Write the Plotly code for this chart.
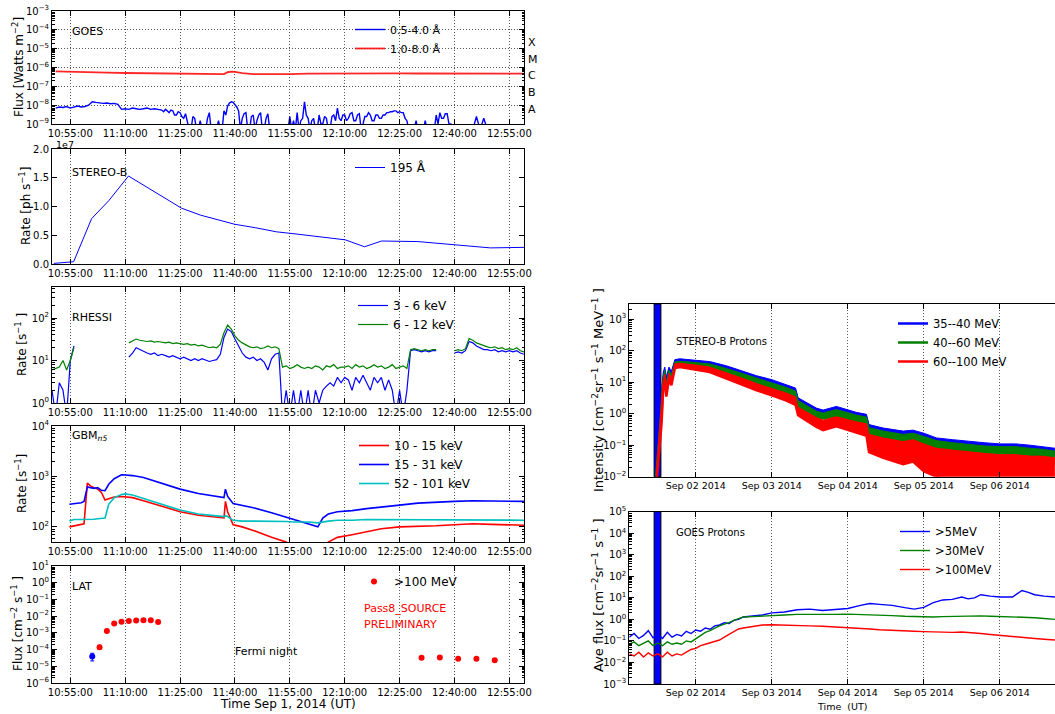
import pandas as pd
import plotly.graph_objects as go

W, H = 1055, 714
DATE = "2014-09-01 "
FONT = "DejaVu Sans"

# ---------------------------------------------------------------- data
# Panel 1: GOES X-ray flux.  0.5-4.0 A channel in units of 1e-9 W m^-2,
# given in three pieces: (start, cadence in s, values)
goes_short_a = [7, 8, 7.5, 8.5, 7, 8, 9, 8, 8.5,
                10, 15, 14, 13, 12.5, 13, 12, 12.5, 11, 6,
                6.5, 6, 7, 6.5, 6, 6.5, 7, 6, 6.5, 6]
goes_short_b = [5.5, 4.5, 6, 5, 4, 5.5, 5, 3, 3, 4.5, 4, 2.5, 2, 3.5, 1.5, 0.5, 0.5, 2.5, 2, 0.5,
                0.5, 1.5, 0.5, 0.5, 0.5, 2, 4, 0.5, 0.5, 0.5, 0.5, 1.5, 0.5, 0.5, 5, 3, 9, 13, 15, 14,
                11, 8, 5, 0.5, 2, 3.5, 4, 0.5, 0.5, 2.5, 3, 0.5, 1.5, 3, 4, 0.5, 0.5, 2, 3.5, 0.5,
                0.5, 0.5, 0.5, 0.5, 0.5, 0.5, 0.5, 0.5, 0.5, 0.5, 2.5, 0.5, 1.5, 0.5, 4, 0.5, 1.5, 2, 15, 3,
                2, 0.5, 1.5, 2, 0.5, 0.5, 3, 1, 1, 2.5, 2, 0.5, 0.5, 2.5, 3, 1.5, 7, 2, 1.5, 3,
                3, 1.5, 2, 3.5, 4, 1.5, 1.5, 3, 3.5, 0.5, 1, 2.5, 2.5, 4, 3, 1.5, 1.5, 3, 3, 2,
                2, 3, 3, 4, 4, 4.5, 4.5, 5, 5, 4, 4.5, 4, 4, 2, 1.5, 0.5, 0.5, 0.5, 0.5, 1.5,
                0.5, 0.5, 0.5, 0.5, 1.5, 0.5, 0.5, 0.5, 0.5, 0.5, 3, 1, 4, 2, 2, 3.5, 3.5, 1, 1, 0.5]
goes_short_c = [0.5, 0.5, 0.5, 0.5, 0.5, 0.5, 2.5, 0.5, 2, 0.5,
                0.5, 0.5, 0.5, 0.5, 0.5, 0.5, 0.5, 0.5, 0.5, 0.5]
goes_short_pieces = [("10:51:00", 60, goes_short_a), ("11:20:00", 30, goes_short_b),
                     ("12:40:00", 60, goes_short_c)]
goes_long_time = ["10:51", "10:55", "11:00", "11:05", "11:10", "11:15", "11:20", "11:25",
                  "11:30", "11:35", "11:37", "11:38", "11:39", "11:40", "11:42", "11:45",
                  "11:50", "11:55", "12:00", "12:05", "12:10", "12:15", "12:20", "12:25",
                  "12:30", "12:35", "12:40", "12:45", "12:50", "12:55", "12:59"]
goes_long_e7 = [6.3, 5.9, 5.5, 5.3, 5.1, 4.9, 4.8, 4.6,
                4.5, 4.4, 4.5, 5.6, 6.0, 5.8, 5.0, 4.4,
                4.3, 4.5, 4.7, 4.8, 4.9, 5.0, 4.9, 4.9,
                4.8, 4.8, 4.7, 4.9, 4.8, 4.8, 4.7]
goes_class = ["X", "M", "C", "B", "A"]

# Panel 2: STEREO-B 195 A, units of 1e7 ph/s
stereo_time = ["10:50:30", "10:55:55", "11:00:50", "11:05:30", "11:10:55", "11:18:00",
               "11:25:25", "11:30:35", "11:40:00", "11:45:40", "11:51:20", "11:57:00",
               "12:10:10", "12:15:25", "12:20:05", "12:30:00", "12:41:20", "12:49:50",
               "12:59:30"]
stereo_rate_e7 = [0.01, 0.04, 0.79, 1.10, 1.53, 1.25,
                  0.97, 0.85, 0.69, 0.63, 0.56, 0.52,
                  0.42, 0.30, 0.40, 0.39, 0.33, 0.28,
                  0.29]

# Panel 3: RHESSI, one value per minute from 10:50 (None = no data)
rhessi_start = "10:50:00"
rhessi_3_6 = [
    2, 0.5, 3, 2, 0.5, 10, 22, None, None, None,
    None, None, None, None, None, None, None, None, None, None,
    None, 12, 15, 20, 18, 16, 15, 14, 15, 13,
    14, 13, 12, 13, 12, 11, 12, 11, 10, 11,
    10, 11, 10, 9.5, 10, 10.5, 14, 35, 55, 48,
    32, 22, 15, 12, 11, 12, 10, 11, 9, 6,
    11, 14, 15, 0.5, 2, 0.5, 2, 0.5, 2, 0.5,
    2, 0.5, 2, 1, 2, 2.5, 3, 2.5, 4, 3,
    4, 3.5, 2, 4, 3, 4.5, 3, 2, 4, 3,
    4, 2, 3.5, 2, 0.5, 2, 0.5, 2, 17, 18,
    17, 16, 17, 16, 17, 17, None, None, None, None,
    15, 16, 15, 17, 28, 26, 22, 20, 18, 18,
    17, 18, 16, 17, 16, 17, 16, 17, 15, 14,
]
rhessi_6_12 = [
    6, 6.5, 7, 10, 6, 10, 20, None, None, None,
    None, None, None, None, None, None, None, None, None, None,
    None, 26, 29, 32, 30, 29, 28, 29, 27, 28,
    27, 26, 27, 25, 26, 25, 24, 25, 23, 24,
    22, 23, 21, 20, 21, 20, 24, 45, 68, 55,
    38, 30, 26, 23, 21, 20, 21, 19, 20, 22,
    20, 21, 19, 7, 7.5, 6.5, 7, 8, 7, 6.5,
    7, 6.5, 7.5, 7, 6, 7.5, 7, 8, 6.5, 7,
    7, 7.5, 6.5, 8, 7, 7.5, 6.5, 7, 8, 7,
    7.5, 6.5, 7, 8, 6.5, 7, 7.5, 6.5, 18, 19,
    18, 17, 18, 17, 18, 18, None, None, None, None,
    17, 18, 17, 19, 33, 30, 26, 24, 22, 21,
    20, 21, 19, 20, 18, 19, 18, 20, 17, 16,
]

# Panel 4: GBM n5 count rates
gbm_time = ["10:54:45", "10:56:00", "10:58:00", "10:58:45", "10:59:40", "11:00:30",
            "11:01:30", "11:02:30", "11:03:30", "11:04:30", "11:05:30", "11:07:00",
            "11:09:00", "11:10:00", "11:12:00", "11:15:00", "11:20:00", "11:25:00",
            "11:30:00", "11:35:00", "11:37:00", "11:37:24", "11:38:00", "11:39:30",
            "11:42:00", "11:45:00", "11:50:00", "11:54:00", "11:56:00", "12:00:00",
            "12:02:40", "12:04:00", "12:05:30", "12:08:00", "12:12:00", "12:16:00",
            "12:20:00", "12:25:00", "12:30:00", "12:35:00", "12:40:00", "12:45:00",
            "12:50:00", "12:55:00", "12:59:00"]
gbm_10_15 = [100, 105, 110, 115, 740, 650,
             600, 560, 480, 340, 360, 390,
             400, 395, 380, 330, 260, 200,
             170, 155, 150, 320, 200, 110,
             100, 85, 62, 50, 40, 40,
             40, 40, 50, 62, 70, 80,
             92, 100, 102, 105, 110, 115,
             112, 110, 108]
gbm_15_31 = [280, 290, 300, 320, 620, 600,
             580, 600, 530, 520, 700, 900,
             1080, 1070, 1040, 950, 720, 560,
             460, 400, 380, 560, 400, 290,
             270, 240, 190, 155, 140, 115,
             100, 150, 180, 200, 210, 230,
             250, 270, 295, 310, 320, 330,
             325, 325, 320]
gbm_52_101 = [130, 140, 140, 140, 142, 143,
              142, 145, 145, 150, 280, 380,
              440, 450, 430, 370, 280, 215,
              180, 165, 160, 165, 160, 135,
              130, 130, 130, 128, 125, 125,
              120, 125, 130, 135, 135, 140,
              140, 140, 140, 140, 140, 140,
              138, 136, 135]

# Panel 5: Fermi-LAT >100 MeV flux
lat_time = ["11:03", "11:05", "11:07", "11:09", "11:11", "11:13", "11:15", "11:17", "11:19",
            "12:31", "12:36", "12:41", "12:46", "12:51"]
lat_flux = [1.4e-4, 1.3e-3, 3.6e-3, 4.6e-3, 5.2e-3, 5.4e-3, 5.6e-3, 5.6e-3, 4.5e-3,
            3.2e-5, 3.4e-5, 2.8e-5, 2.8e-5, 2.3e-5]
lat_err_hi = [0.4e-4, 0.3e-3, 0.6e-3, 0.6e-3, 0.6e-3, 0.6e-3, 0.6e-3, 0.6e-3, 0.6e-3,
              0.5e-5, 0.5e-5, 0.4e-5, 0.4e-5, 0.4e-5]
lat_err_lo = [0.35e-4, 0.25e-3, 0.5e-3, 0.5e-3, 0.5e-3, 0.5e-3, 0.5e-3, 0.5e-3, 0.5e-3,
              0.4e-5, 0.4e-5, 0.35e-5, 0.35e-5, 0.35e-5]
lat_halfbin_min = [1.2, 1, 1, 1, 1, 1, 1, 1, 1.2, 2.5, 2.5, 2.5, 2.5, 2.5]
lat_blue_time = ["11:01"]
lat_blue_flux = [3.9e-5]
lat_blue_err_hi = [2.1e-5]
lat_blue_err_lo = [1.8e-5]
lat_blue_halfbin_min = [1.1]

# Right panels: hours since 2014-09-01 00:00 UT
band_start, band_end = DATE + "10:50", DATE + "12:59"   # window of the left panels
sb_hours = [11.5, 12.4, 13.2, 13.7, 14.2, 14.7, 15.5, 16.3, 17.4, 19.0,
            21.5, 24.0, 28.4, 33.7, 39.0, 43.2, 48.0, 52.6, 55.5, 56.3,
            57.9, 62.1, 64.2, 68.4, 74.7, 77.9, 78.7, 83.2, 89.5, 92.6,
            96.0, 100.0, 105.0, 110.5, 115.0, 120.0, 125.0, 129.5, 133.0, 137.4]
sb_35_40_hi = [0.02, 0.35, 3, 20, 30, 14, 30, 22, 52, 55,
               52, 50, 45, 33, 22, 16, 12, 8.5, 6.5, 3.2,
               2.6, 1.5, 1.3, 1.7, 1.1, 0.95, 0.45, 0.35, 0.28, 0.3,
               0.24, 0.17, 0.15, 0.13, 0.12, 0.11, 0.11, 0.1, 0.09, 0.08]
sb_35_40_lo = [0.01, 0.2, 1.5, 12, 20, 8, 20, 15, 38, 42,
               40, 38, 34, 25, 16, 12, 9, 6.2, 4.8, 2.3,
               1.9, 1.1, 0.95, 1.2, 0.8, 0.7, 0.3, 0.24, 0.19, 0.21,
               0.17, 0.12, 0.1, 0.09, 0.08, 0.07, 0.07, 0.065, 0.06, 0.05]
sb_40_60_hi = [0.015, 0.25, 2, 15, 24, 9, 24, 17, 44, 46,
               44, 42, 38, 27, 18, 13, 9.5, 6.8, 5.2, 2.6,
               2.1, 1.2, 1.05, 1.35, 0.9, 0.78, 0.36, 0.28, 0.22, 0.24,
               0.19, 0.14, 0.12, 0.105, 0.095, 0.09, 0.09, 0.08, 0.075, 0.065]
sb_40_60_lo = [0.01, 0.12, 1, 9, 15, 5, 16, 11, 33, 35,
               33, 31, 27, 19, 12, 8.5, 6.2, 4.5, 3.4, 1.7,
               1.4, 0.8, 0.7, 0.85, 0.58, 0.5, 0.2, 0.15, 0.11, 0.12,
               0.09, 0.06, 0.05, 0.045, 0.04, 0.035, 0.035, 0.03, 0.03, 0.025]
sb_60_100_hi = [0.012, 0.2, 1.5, 11, 18, 7, 19, 13, 38, 40,
                37, 35, 30, 20, 13, 9, 6.5, 4.5, 3.4, 1.6,
                1.3, 0.75, 0.62, 0.8, 0.55, 0.48, 0.22, 0.17, 0.13, 0.15,
                0.11, 0.08, 0.07, 0.06, 0.055, 0.05, 0.05, 0.045, 0.045, 0.04]
sb_60_100_lo = [0.005, 0.05, 0.5, 6, 11, 3.5, 12, 8, 28, 30,
                27, 25, 21, 13, 8, 5.5, 3.8, 2.6, 1.9, 0.9,
                0.7, 0.38, 0.3, 0.4, 0.25, 0.2, 0.06, 0.04, 0.025, 0.03,
                0.015, 0.01, 0.007, 0.006, 0.005, 0.005, 0.005, 0.005, 0.005, 0.005]

gp_hours = [3, 4.5, 6, 7.5, 9, 10.5, 12, 13.5, 15, 16.5,
            18, 19.5, 21, 22.5, 24, 25.5, 27, 28.5, 30, 31.5,
            33, 34.5, 36, 37.5, 39, 42, 45, 48, 52, 56,
            60, 64, 68, 72, 76, 79, 82, 86, 90, 93,
            96, 99, 102, 105, 108, 110, 112, 114, 117, 120,
            124, 127, 129, 131, 134, 137.4]
gp_5 = [0.15, 0.22, 0.13, 0.18, 0.3, 0.14, 0.2, 0.13, 0.25, 0.15,
        0.2, 0.17, 0.28, 0.22, 0.32, 0.28, 0.4, 0.35, 0.5, 0.55,
        0.7, 0.65, 0.9, 1.0, 1.3, 1.4, 1.6, 2.0, 2.2, 2.8,
        3.0, 2.6, 3.0, 3.2, 4.5, 5.5, 5.0, 4.5, 3.5, 3.0,
        3.6, 6.0, 8.0, 8.5, 11, 9, 10, 14, 12, 11,
        11, 22, 18, 14, 12, 11]
gp_30 = [0.07, 0.09, 0.06, 0.08, 0.1, 0.06, 0.08, 0.06, 0.09, 0.07,
         0.08, 0.07, 0.1, 0.09, 0.13, 0.18, 0.25, 0.3, 0.4, 0.5,
         0.6, 0.7, 0.9, 1.1, 1.3, 1.35, 1.45, 1.5, 1.6, 1.7,
         1.7, 1.6, 1.7, 1.75, 1.7, 1.65, 1.6, 1.5, 1.4, 1.35,
         1.3, 1.3, 1.35, 1.4, 1.45, 1.4, 1.45, 1.45, 1.4, 1.35,
         1.3, 1.3, 1.25, 1.2, 1.1, 1.0]
gp_100 = [0.025, 0.02, 0.03, 0.018, 0.028, 0.02, 0.025, 0.018, 0.03, 0.02,
          0.025, 0.022, 0.03, 0.04, 0.045, 0.06, 0.07, 0.08, 0.09, 0.11,
          0.15, 0.2, 0.28, 0.36, 0.4, 0.47, 0.55, 0.56, 0.55, 0.53,
          0.5, 0.48, 0.45, 0.42, 0.38, 0.36, 0.33, 0.32, 0.3, 0.28,
          0.27, 0.26, 0.26, 0.25, 0.26, 0.24, 0.23, 0.22, 0.2, 0.18,
          0.16, 0.15, 0.14, 0.13, 0.12, 0.11]

# ---------------------------------------------------------------- helpers
def T(s):
    return pd.Timestamp(DATE + s)


def hrs(hs):
    return [pd.Timestamp("2014-09-01") + pd.Timedelta(hours=h) for h in hs]


def lx(p):
    return p / W


def ly(p):
    return 1 - p / H


BLUE, RED, GREEN, CYAN = "#0000ff", "#ff0000", "#008000", "#00bfbf"

fig = go.Figure()

# Panel 1
t_short, v_short = [], []
for start, cad, vals in goes_short_pieces:
    t_short += list(pd.date_range(T(start), periods=len(vals), freq="%ds" % cad))
    v_short += [v * 1e-9 for v in vals]
fig.add_trace(go.Scatter(x=t_short, y=v_short, mode="lines",
                         line=dict(color=BLUE, width=1.4), name="0.5-4.0 Å",
                         xaxis="x", yaxis="y", legend="legend"))
fig.add_trace(go.Scatter(x=[T(s) for s in goes_long_time], y=[v * 1e-7 for v in goes_long_e7],
                         mode="lines", line=dict(color="rgba(255,0,0,0.85)", width=1.8),
                         name="1.0-8.0 Å", xaxis="x", yaxis="y", legend="legend"))
# Panel 2
fig.add_trace(go.Scatter(x=[T(s) for s in stereo_time], y=[v * 1e7 for v in stereo_rate_e7],
                         mode="lines", line=dict(color=BLUE, width=1), name="195 Å",
                         xaxis="x2", yaxis="y2", legend="legend2"))
# Panel 3
t_rh = pd.date_range(T(rhessi_start), periods=len(rhessi_3_6), freq="min")
fig.add_trace(go.Scatter(x=t_rh, y=rhessi_3_6, mode="lines", connectgaps=False,
                         line=dict(color=BLUE, width=1.2), name="3 - 6 keV",
                         xaxis="x3", yaxis="y3", legend="legend3"))
fig.add_trace(go.Scatter(x=t_rh, y=rhessi_6_12, mode="lines", connectgaps=False,
                         line=dict(color=GREEN, width=1.2), name="6 - 12 keV",
                         xaxis="x3", yaxis="y3", legend="legend3"))
# Panel 4
t_gbm = [T(s) for s in gbm_time]
for ys, col, nm in [(gbm_10_15, RED, "10 - 15 keV"), (gbm_15_31, BLUE, "15 - 31 keV"),
                    (gbm_52_101, CYAN, "52 - 101 keV")]:
    fig.add_trace(go.Scatter(x=t_gbm, y=ys, mode="lines", line=dict(color=col, width=1.6),
                             name=nm, xaxis="x4", yaxis="y4", legend="legend4"))
# Panel 5
fig.add_trace(go.Scatter(
    x=[T(s) for s in lat_time], y=lat_flux, mode="markers", name=">100 MeV",
    marker=dict(color=RED, size=6),
    error_y=dict(type="data", symmetric=False, array=lat_err_hi, arrayminus=lat_err_lo,
                 color=RED, thickness=1, width=2),
    error_x=dict(type="data", array=[m * 60000 for m in lat_halfbin_min],
                 color=RED, thickness=1, width=2),
    xaxis="x5", yaxis="y5", legend="legend5"))
fig.add_trace(go.Scatter(
    x=[T(s) for s in lat_blue_time], y=lat_blue_flux, mode="markers", showlegend=False,
    marker=dict(color=BLUE, size=6),
    error_y=dict(type="data", symmetric=False, array=lat_blue_err_hi,
                 arrayminus=lat_blue_err_lo, color=BLUE, thickness=1, width=2),
    error_x=dict(type="data", array=[m * 60000 for m in lat_blue_halfbin_min],
                 color=BLUE, thickness=1, width=2),
    xaxis="x5", yaxis="y5"))
# Right panel 1 (bands = spread of the noisy series)
t_sb = hrs(sb_hours)
for lo, hi, col, nm in [(sb_35_40_lo, sb_35_40_hi, BLUE, "35--40 MeV"),
                        (sb_40_60_lo, sb_40_60_hi, GREEN, "40--60 MeV"),
                        (sb_60_100_lo, sb_60_100_hi, RED, "60--100 MeV")]:
    fig.add_trace(go.Scatter(x=t_sb, y=lo, mode="lines", line=dict(color=col, width=2.5),
                             name=nm, xaxis="x6", yaxis="y6", legend="legend6"))
    fig.add_trace(go.Scatter(x=t_sb, y=hi, mode="lines", line=dict(color=col, width=1),
                             fill="tonexty", fillcolor=col, showlegend=False,
                             xaxis="x6", yaxis="y6"))
# Right panel 2
t_gp = hrs(gp_hours)
for ys, col, nm in [(gp_5, BLUE, ">5MeV"), (gp_30, GREEN, ">30MeV"), (gp_100, RED, ">100MeV")]:
    fig.add_trace(go.Scatter(x=t_gp, y=ys, mode="lines", line=dict(color=col, width=1.4),
                             name=nm, xaxis="x7", yaxis="y7", legend="legend7"))

# ---------------------------------------------------------------- axes
def base_axis(**kw):
    d = dict(showline=True, linecolor="black", linewidth=1, mirror="ticks",
             ticks="inside", ticklen=5, tickwidth=1, tickcolor="black",
             tickfont=dict(family=FONT, size=10, color="black"),
             showgrid=False, zeroline=False, automargin=False)
    d.update(kw)
    return d


GRID = dict(showgrid=True, gridcolor="#555555", gridwidth=0.8, griddash="1px,2px")


def log_ticks(lo, hi):
    exps = list(range(lo, hi + 1))
    return dict(tickmode="array", tickvals=[10.0 ** e for e in exps],
                ticktext=["10<sup>%s%d</sup>" % ("\u2212" if e < 0 else "", abs(e)) for e in exps],
                minor=dict(tickmode="array", ticks="inside", ticklen=2.5, tickcolor="black",
                           showgrid=False,
                           tickvals=[m * 10.0 ** e for e in range(lo - 1, hi + 1) for m in range(2, 10)]))


left_range = [DATE + "10:50:00", DATE + "12:59:00"]
right_range = ["2014-09-01 03:00", "2014-09-06 17:26"]
left_rows = [(11, 124), (149, 264), (287, 403), (426, 542), (566, 683)]
right_rows = [(304, 476.7), (511.7, 684)]

axes = {}
for i, (top, bot) in enumerate(left_rows, start=1):
    s = "" if i == 1 else str(i)
    axes["xaxis" + s] = base_axis(type="date", domain=[lx(52), lx(524)], range=left_range,
                                  anchor="y" + s, tick0=DATE + "10:55:00", dtick=900000,
                                  tickformat="%H:%M:%S", **GRID)
    axes["yaxis" + s] = dict(domain=[ly(bot), ly(top)], anchor="x" + s)

axes["yaxis"].update(base_axis(type="log", range=[-9, -3], **log_ticks(-9, -3), **GRID))
axes["yaxis2"].update(base_axis(type="linear", range=[0, 2e7], tickmode="array",
                                tickvals=[0, 0.5e7, 1e7, 1.5e7, 2e7],
                                ticktext=["0.0", "0.5", "1.0", "1.5", "2.0"]))
axes["yaxis3"].update(base_axis(type="log", range=[0, 2.73], **log_ticks(0, 2)))
axes["yaxis4"].update(base_axis(type="log", range=[1.7, 4], **log_ticks(2, 4)))
axes["yaxis5"].update(base_axis(type="log", range=[-6, 1], **log_ticks(-6, 1)))

for j, ((top, bot), (lo, hi)) in enumerate(zip(right_rows, [(-2, 3.48), (-3, 5)]), start=6):
    s = str(j)
    axes["xaxis" + s] = base_axis(type="date", domain=[lx(629.3), 1.0], range=right_range,
                                  anchor="y" + s, tick0="2014-09-02", dtick=86400000,
                                  tickformat="%b %d %Y",
                                  tickfont=dict(family=FONT, size=9.5, color="black"), **GRID)
    axes["yaxis" + s] = base_axis(type="log", domain=[ly(bot), ly(top)], anchor="x" + s,
                                  range=[lo, hi], mirror=False, **log_ticks(int(lo), int(hi)))

fig.update_layout(**axes)

# blue band = time window of left panels
for j in (6, 7):
    fig.add_shape(type="rect", xref="x%d" % j, yref="y%d domain" % j, x0=band_start,
                  x1=band_end, y0=0, y1=1, fillcolor=BLUE, line=dict(color="black", width=1),
                  layer="below")


# ---------------------------------------------------------------- legends
def leg(xpx, ypx, size):
    return dict(x=lx(xpx), y=ly(ypx), xanchor="left", yanchor="top", traceorder="normal",
                bgcolor="rgba(0,0,0,0)", borderwidth=0,
                font=dict(family=FONT, size=size, color="black"))


fig.update_layout(
    legend=leg(350, 15, 11), legend2=leg(350, 153, 12), legend3=leg(353, 291, 12),
    legend4=leg(354, 431, 12), legend5=leg(354, 567, 12),
    legend6=leg(893, 309, 11.5), legend7=leg(895, 517, 11.5),
)

# ---------------------------------------------------------------- texts
ann = []


def text(t, xpx, ypx, size, xanchor="left", angle=0, color="black"):
    ann.append(dict(text=t, x=lx(xpx), y=ly(ypx), xref="paper", yref="paper",
                    xanchor=xanchor, yanchor="middle", showarrow=False, textangle=angle,
                    font=dict(family=FONT, size=size, color=color)))


text("GOES", 70, 32, 11)
text("STEREO-B", 70, 172, 11)
text("RHESSI", 70, 317, 11)
text("GBM<sub><i>n5</i></sub>", 70, 436, 11)
text("LAT", 70, 586, 11)
text("Fermi night", 266, 651, 11, xanchor="center")
text("Pass8_SOURCE", 362, 608, 11, color=RED)
text("PRELIMINARY", 362, 624, 11, color=RED)
text("1e7", 54, 144.5, 9.5)
for lab, ypx in zip(goes_class, [42, 59, 76, 93, 109.5]):
    text(lab, 526, ypx, 11)
text("STEREO-B Protons", 674, 341, 10)
text("GOES Protons", 674, 532, 10)

text("Flux [Watts m<sup>\u22122</sup>]", 18, 67, 12, xanchor="center", angle=-90)
text("Rate [ph s<sup>\u22121</sup>]", 25, 206, 12, xanchor="center", angle=-90)
text("Rate [s<sup>\u22121</sup> ]", 21, 345, 12, xanchor="center", angle=-90)
text("Rate [s<sup>\u22121</sup>]", 21, 484, 12, xanchor="center", angle=-90)
text("Flux [cm<sup>\u22122</sup> s<sup>\u22121</sup> ]", 17, 624, 12, xanchor="center", angle=-90)
text("Intensity [cm<sup>\u22122</sup>sr<sup>\u22121</sup> s<sup>\u22121</sup> MeV<sup>\u22121</sup> ]",
     598, 390, 13, xanchor="center", angle=-90)
text("Ave flux [cm<sup>\u22122</sup>sr<sup>\u22121</sup> s<sup>\u22121</sup> ]", 598, 595, 13,
     xanchor="center", angle=-90)
text("Time Sep 1, 2014 (UT)", 288, 704, 12, xanchor="center")
text("Time\u00a0 (UT)", 842, 706, 9.5, xanchor="center")

fig.update_layout(width=W, height=H, margin=dict(l=0, r=0, t=0, b=0),
                  paper_bgcolor="white", plot_bgcolor="white",
                  font=dict(family=FONT, size=10, color="black"), annotations=ann)

fig.write_html("out.html", config={"displayModeBar": False},
               post_script="document.body.style.margin='0px';"
                           "document.body.style.overflow='hidden';")
